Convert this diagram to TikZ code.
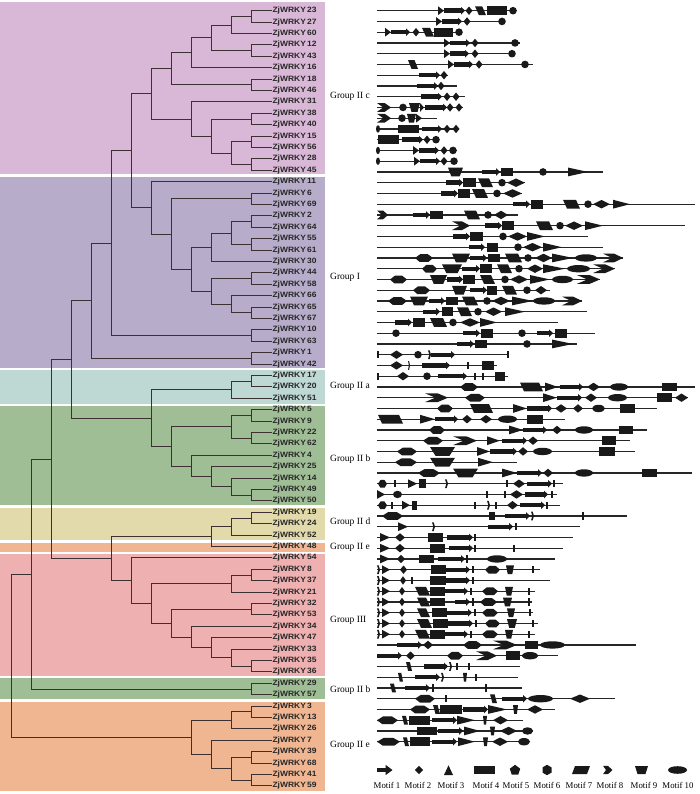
\documentclass[tikz,border=0pt]{standalone}
\usepackage{fontspec}
\setmainfont{Liberation Serif}
\newfontfamily\labfont[FakeStretch=1.1]{Liberation Sans}
\usetikzlibrary{calc}
\definecolor{cpink}{RGB}{217,183,214}
\definecolor{cpurp}{RGB}{183,172,202}
\definecolor{cteal}{RGB}{190,216,212}
\definecolor{cgreen}{RGB}{160,190,150}
\definecolor{cyell}{RGB}{226,218,170}
\definecolor{corange}{RGB}{240,182,146}
\definecolor{cred}{RGB}{238,176,176}
\definecolor{treec}{RGB}{60,48,50}
\tikzset{
 band/.style={fill=#1, draw=none},
 tree/.style={draw=treec, line width=0.85pt},
 lab/.style={anchor=west, inner sep=0.8pt, font=\labfont\bfseries\fontsize{7.7}{8}\selectfont, text=black!85},
 grp/.style={anchor=west, inner sep=0pt, font=\fontsize{9.5}{11}\selectfont},
 mline/.style={draw=black!85, line width=1.2pt},
 mf/.style={fill=black!90},
 mtxt/.style={font=\fontsize{8.8}{10}\selectfont, inner sep=0pt}
}
\newcommand\jn[4]{%
 \path let \p1=(#3), \p2=(#4) in coordinate (#1) at (#2pt,{(\y1+\y2)/2});
 \draw[tree] (#1) |- (#3);
 \draw[tree] (#1) |- (#4);}
\newcommand\mot[3]{%
 \pgfmathsetmacro\ma{#2}\pgfmathsetmacro\mb{#3}%
 \pgfmathsetmacro\mw{\mb-\ma}\pgfmathsetmacro\mc{(\ma+\mb)/2}%
 \pgfmathsetmacro\ms{min(0.35*\mw,4)}%
 \ifcase#1\relax
  \fill[mf] (\ma,\ry-3.6) rectangle (\mb,\ry+3.6);
 \or
  \fill[mf] (\ma,\ry-2.2) rectangle ({\mb-3},\ry+2.2);
  \fill[mf] ({\mb-4},\ry-3.9) -- (\mb,\ry) -- ({\mb-4},\ry+3.9) -- cycle;
 \or
  \fill[mf] (\ma,\ry) -- (\mc,\ry-4.2) -- (\mb,\ry) -- (\mc,\ry+4.2) -- cycle;
 \or
  \fill[mf] (\ma,\ry-4.4) -- (\mb,\ry) -- (\ma,\ry+4.4) -- cycle;
 \or
  \fill[mf] (\ma,\ry-4.4) rectangle (\mb,\ry+4.4);
 \or
  \fill[mf] (\ma,\ry) -- ({\ma+0.3*\mw},\ry-3.9) -- ({\mb-0.3*\mw},\ry-3.9) -- (\mb,\ry) -- ({\mb-0.25*\mw},\ry+3.9) -- ({\ma+0.25*\mw},\ry+3.9) -- cycle;
 \or
  \fill[mf] (\mc,\ry) circle[radius=3.8];
 \or
  \fill[mf] (\ma,\ry-4.4) -- ({\mb-\ms},\ry-4.4) -- (\mb,\ry+4.4) -- ({\ma+\ms},\ry+4.4) -- cycle;
 \or
  \fill[mf] (\ma,\ry-4.4) -- ({\ma+0.55*\mw},\ry-4.4) -- (\mb,\ry) -- ({\ma+0.55*\mw},\ry+4.4) -- (\ma,\ry+4.4) -- ({\ma+0.45*\mw},\ry) -- cycle;
 \or
  \fill[mf] (\ma,\ry-4.4) -- (\mb,\ry-4.4) -- ({\mb-0.22*\mw},\ry+4.4) -- ({\ma+0.22*\mw},\ry+4.4) -- cycle;
 \or
  \fill[mf] (\mc,\ry) ellipse[x radius={\mw/2}, y radius=3.7];
 \fi}
\newcommand\mrow[3]{%
 \pgfmathsetmacro\ry{10.7+10.75*#1}%
 \draw[mline] (377,\ry) -- (#2,\ry);
 \foreach \mty/\mxa/\mxb in {#3}{\mot{\mty}{\mxa}{\mxb}}}
\begin{document}
\begin{tikzpicture}[x=1pt,y=-1pt]
\useasboundingbox[fill=white] (0,0) rectangle (700,794);
% bands
\fill[band=cpink] (0,2) rectangle (325,174.5);
\fill[band=cpurp] (0,177) rectangle (325,367.5);
\fill[band=cteal] (0,370) rectangle (325,403.5);
\fill[band=cgreen] (0,405.5) rectangle (325,505);
\fill[band=cyell] (0,507.5) rectangle (325,540);
\fill[band=corange] (0,542.5) rectangle (325,551.5);
\fill[band=cred] (0,554) rectangle (325,675.5);
\fill[band=cgreen] (0,678) rectangle (325,699);
\fill[band=corange] (0,701.5) rectangle (325,790.5);
% leaves
\foreach \g/\i in {23/0,27/1,60/2,12/3,43/4,16/5,18/6,46/7,31/8,38/9,40/10,15/11,56/12,28/13,45/14,
 11/15,6/16,69/17,2/18,64/19,55/20,61/21,30/22,44/23,58/24,66/25,65/26,67/27,10/28,63/29,1/30,42/31,
 17/32,20/33,51/34,5/35,9/36,22/37,62/38,4/39,25/40,14/41,49/42,50/43,19/44,24/45,52/46,48/47,
 54/48,8/49,37/50,21/51,32/52,53/53,34/54,47/55,33/56,35/57,36/58,29/59,57/60,
 3/61,13/62,26/63,7/64,39/65,68/66,41/67,59/68}
 {\node[lab] (w\g) at (271.5,{10.7+11.4*\i}) {ZjWRKY\,\g};}
% tree: group IIc
\jn{a1}{251}{w23}{w27}
\jn{a2}{231}{a1}{w60}
\jn{a3}{251}{w12}{w43}
\jn{a4}{211}{a2}{a3}
\jn{a5}{191}{a4}{w16}
\jn{a6}{251}{w18}{w46}
\jn{a7}{171}{a5}{a6}
\jn{a8}{251}{w38}{w40}
\jn{a9}{251}{w15}{w56}
\jn{a10}{251}{w28}{w45}
\jn{a11}{231}{a9}{a10}
\jn{a12}{211}{a8}{a11}
\jn{a13}{191}{w31}{a12}
\jn{a14}{151}{a7}{a13}
% group I
\jn{b1}{251}{w6}{w69}
\jn{b2}{251}{w2}{w64}
\jn{b3}{251}{w55}{w61}
\jn{b4}{231}{b2}{b3}
\jn{b5}{211}{b4}{w30}
\jn{b6}{251}{w44}{w58}
\jn{b7}{251}{w65}{w67}
\jn{b8}{231}{w66}{b7}
\jn{b9}{211}{b6}{b8}
\jn{b10}{191}{b5}{b9}
\jn{b11}{171}{b1}{b10}
\jn{b12}{151}{w11}{b11}
\jn{c1}{131}{a14}{b12}
\jn{b13}{251}{w10}{w63}
\jn{c2}{111}{c1}{b13}
\jn{b14}{251}{w1}{w42}
\jn{c3}{91}{c2}{b14}
% IIa, IIb
\jn{d1}{251}{w17}{w20}
\jn{d2}{231}{d1}{w51}
\jn{e1}{251}{w5}{w9}
\jn{e2}{251}{w22}{w62}
\jn{e3}{231}{e1}{e2}
\jn{e4}{251}{w49}{w50}
\jn{e5}{231}{w14}{e4}
\jn{e6}{211}{w25}{e5}
\jn{e7}{191}{w4}{e6}
\jn{e8}{171}{e3}{e7}
\jn{e9}{151}{d2}{e8}
\jn{c4}{71}{c3}{e9}
% IId, IIe, III
\jn{f1}{251}{w19}{w24}
\jn{f2}{231}{f1}{w52}
\jn{f3}{211}{f2}{w48}
\jn{g1}{251}{w8}{w37}
\jn{g2}{231}{g1}{w21}
\jn{g3}{251}{w32}{w53}
\jn{g4}{251}{w35}{w36}
\jn{g5}{231}{w33}{g4}
\jn{g6}{211}{w47}{g5}
\jn{g7}{191}{w34}{g6}
\jn{g8}{171}{g3}{g7}
\jn{g9}{151}{g2}{g8}
\jn{g10}{131}{w54}{g9}
\jn{c5}{111}{f3}{g10}
\jn{c6}{51}{c4}{c5}
\jn{h1}{251}{w29}{w57}
\jn{c7}{31}{c6}{h1}
\jn{k1}{251}{w3}{w13}
\jn{k2}{231}{k1}{w26}
\jn{k3}{251}{w39}{w68}
\jn{k4}{251}{w41}{w59}
\jn{k5}{231}{k3}{k4}
\jn{k6}{211}{w7}{k5}
\jn{k7}{191}{k2}{k6}
\jn{c8}{11}{c7}{k7}
% group labels
\node[grp] (gl1) at (330,96) {Group II c};
\node[grp] (gl2) at (330,277.3) {Group I};
\node[grp] (gl3) at (330,386) {Group II a};
\node[grp] (gl4) at (330,459.3) {Group II b};
\node[grp] (gl5) at (330,522.3) {Group II d};
\node[grp] (gl6) at (330,547.3) {Group II e};
\node[grp] (gl7) at (330,620) {Group III};
\node[grp] (gl8) at (330,690) {Group II b};
\node[grp] (gl9) at (330,745) {Group II e};
% motif rows
\mrow{0}{517}{3/438/444,1/444/465,2/465.5/472.5,7/475/486,4/487/507,6/510/516}
\mrow{1}{503}{3/436/442,1/442/462,2/463.5/470.5,6/499/505}
\mrow{2}{462}{3/385/391,1/391/410,2/412.5/419.5,7/422/434,4/434/453,6/456/462}
\mrow{3}{520}{3/444/450,1/450/470,2/471.5/478.5,6/512/518}
\mrow{4}{512}{3/444/450,1/450/469,2/471.5/478.5,6/509/515}
\mrow{5}{533}{7/408/418,3/448/454,1/454/473,2/475.5/482.5,6/522/528}
\mrow{6}{448}{1/419/440,2/440.5/447.5}
\mrow{7}{457}{1/417/438,2/437.5/444.5}
\mrow{8}{465}{1/421/442,2/443.5/450.5,2/452.5/459.5}
\mrow{9}{463}{8/377/391,6/400/406,9/409/420,3/420/424,1/425/447,2/446.5/453.5,2/455.5/462.5}
\mrow{10}{437}{8/377/391,6/399/405,9/407/416,3/416/422}
\mrow{11}{458}{10/376/380,4/398/419,1/422/442,2/443.5/450.5,2/452.5/459.5}
\mrow{12}{438}{4/378/399,1/402/423,2/423.5/430.5,6/433/439}
\mrow{13}{457}{10/376/380,3/413/419,1/419/439,2/440.5/447.5,6/450/456}
\mrow{14}{457}{10/376/380,3/414/420,1/420/440,2/440.5/447.5,6/451/457}
\mrow{15}{603}{9/448/463,1/482/500,4/501/513,6/540/546,3/568/588}
\mrow{16}{525}{1/446/463,4/463/476,7/478/493,6/499/505,2/507/525}
\mrow{17}{522}{1/441/458,4/458/470,7/472/488,6/494/500,2/503/522}
\mrow{18}{695}{1/513/530,4/531/543,7/563/580,6/585/591,2/593/610,3/613/630}
\mrow{19}{518}{8/377/388,1/413/430,4/430/443,7/464/480,6/485/491,2/494/508}
\mrow{20}{685}{8/452/470,1/485/502,4/502/514,7/536/553,6/557/563,2/565/583,3/585/603}
\mrow{21}{588}{1/453/470,4/470/483,6/500/506,2/508/527,3/527/545}
\mrow{22}{603}{1/469/485,4/487/498,6/515/521,2/523/542,3/543/562}
\mrow{23}{623}{5/415/433,9/452/470,1/470/487,4/488/500,7/505/522,6/525/531,2/535/552,3/552/573,10/575/597,8/603/623}
\mrow{24}{615}{5/422/437,9/442/462,1/462/480,4/480/492,7/497/512,6/516/522,2/527/543,3/543/565,10/567/590,8/593/615}
\mrow{25}{600}{5/390/407,9/430/447,1/447/463,4/463/475,7/480/495,6/502/508,2/510/528,3/530/550,10/552/573,8/577/600}
\mrow{26}{550}{5/413/430,9/452/467,1/470/487,4/487/497,7/502/517,6/524/530,2/535/547}
\mrow{27}{582}{5/388/407,9/410/428,1/429/445,4/446/458,7/462/478,6/484/490,2/492/510,3/512/533,10/533/555,8/562/582}
\mrow{28}{587}{1/423/440,4/442/453,7/457/472,6/475/481,2/485/502,3/505/525}
\mrow{29}{558}{1/395/412,4/413/425,7/430/447,6/450/456,2/460/480,3/480/497}
\mrow{30}{595}{6/393/399,1/463/480,4/481/493,6/519/525,1/537/553,4/555/567}
\mrow{31}{577}{1/457/474,4/475/487,6/524/530,3/552/573}
\mrow{32}{508}{0/377/379,2/390/403,6/415/421,8/428/431,1/431/455,0/507/509}
\mrow{33}{497}{2/390/403,8/408/410,1/422/450,0/467/469,4/482/494}
\mrow{34}{508}{0/377/379,2/397/409,6/424/430,1/438/467,0/474/476,0/482/484,4/495/505}
\mrow{35}{695}{5/460/478,7/520/543,3/545/558,1/560/583,2/587/600,10/610/628,4/662/677}
\mrow{36}{688}{8/425/448,5/465/485,3/543/557,1/557/582,2/585/597,10/608/627,4/657/672,2/675/688}
\mrow{37}{657}{5/437/453,7/470/493,3/513/527,1/527/552,2/555/567,2/573/583,10/592/605,4/620/635}
\mrow{38}{565}{7/378/403,3/420/435,1/435/458,2/462/472,2/480/492,10/498/517,4/527/543}
\mrow{39}{647}{5/429/445,3/509/523,1/523/547,2/552/562,10/575/593,4/619/633}
\mrow{40}{630}{5/423/443,8/453/477,3/487/500,1/502/527,2/528/538,4/602/616}
\mrow{41}{635}{5/397/417,9/430/455,3/477/490,1/490/517,2/518/528,10/533/552,4/599/615}
\mrow{42}{517}{5/395/417,9/430/455,3/478/493}
\mrow{43}{692}{5/418/440,9/453/478,3/502/517,1/517/542,2/543/553,10/575/593,4/642/657}
\mrow{44}{563}{5/378/387,0/394/396,3/408/417,4/419/426,8/445/448,0/506/508,2/513/525,1/527/552,0/553/555}
\mrow{45}{557}{3/377/385,10/393/402,0/486/488,0/504/506,2/510/523,1/525/548,0/551/553}
\mrow{46}{560}{5/378/387,0/391/393,3/402/410,4/412/417,0/474/476,8/487/490,0/495/497,2/507/518,1/520/545,0/546/548}
\mrow{47}{627}{5/382/403,4/489/495,1/505/530,8/531/534,0/582/584}
\mrow{48}{580}{3/398/408,8/432/435,1/488/513,0/515/517}
\mrow{49}{573}{3/380/390,2/395/405,4/428/443,1/447/473,0/474/476}
\mrow{50}{563}{3/380/390,2/395/405,4/430/445,1/449/473,0/474/476,0/513/515}
\mrow{51}{555}{3/380/390,2/397/405,4/419/434,1/438/465,0/466/468,10/487/507}
\mrow{52}{540}{8/377/380,3/382/390,2/400/407,4/431/446,1/446/470,0/472/474,5/485/500,9/506/514,0/532/534}
\mrow{53}{550}{8/377/380,3/382/390,2/400/406,0/411/413,4/430/446,1/446/470,0/472/474}
\mrow{54}{535}{8/377/380,3/382/390,2/399/405,7/415/430,4/430/445,1/445/468,0/470/472,5/482/498,9/505/513,0/528/530}
\mrow{55}{532}{8/377/380,3/382/390,2/399/405,7/417/430,4/430/445,1/455/470,0/472/474,5/480/497,9/503/512,0/528/530}
\mrow{56}{533}{8/377/380,3/382/390,2/399/405,7/417/430,4/432/447,1/447/472,0/474/476,5/482/498,9/507/515,0/529/531}
\mrow{57}{538}{8/377/380,3/382/390,2/399/405,7/417/432,4/433/448,1/448/473,0/475/477,5/485/500,9/507/517,0/532/534}
\mrow{58}{535}{8/377/380,3/382/390,2/399/405,7/415/430,4/430/445,1/445/468,0/470/472,5/482/498,9/505/513,0/528/530}
\mrow{59}{636}{1/397/422,2/423/433,5/463/482,8/493/517,4/525/538,10/540/565}
\mrow{60}{558}{1/377/402,2/406/415,5/447/463,8/476/497,4/506/520,10/522/538}
\mrow{61}{520}{7/406/412,1/424/448,8/449/452,0/456/458,0/468/470}
\mrow{62}{518}{7/398/403,1/415/440,8/441/444,9/463/467,0/475/477}
\mrow{63}{522}{7/390/396,1/405/430,0/432/434,0/485/487}
\mrow{64}{615}{5/415/435,0/445/447,7/490/497,1/502/527,10/528/553,2/570/590}
\mrow{65}{555}{5/410/430,7/433/440,4/440/462,1/463/488,3/488/507,9/513/518,2/527/543}
\mrow{66}{523}{5/377/398,7/402/408,4/409/430,1/432/457,3/457/475,9/483/487,2/493/508}
\mrow{67}{533}{4/417/437,1/438/463,3/464/480,9/490/495,2/500/517,10/522/533}
\mrow{68}{530}{5/377/400,7/403/409,4/410/430,1/432/457,3/458/475,9/483/488,2/492/508,10/518/530}
% legend shapes
\fill[mf] (377,767.6) rectangle (386,772.4);
\fill[mf] (385.5,764.8) -- (392.5,770) -- (385.5,775.2) -- cycle;
\fill[mf] (414.8,770) -- (419,765.8) -- (423.2,770) -- (419,774.2) -- cycle;
\fill[mf] (444,775) -- (448.5,765.3) -- (453,775) -- cycle;
\fill[mf] (474,766) rectangle (495,774);
\fill[mf] (515,764.8) -- (520.2,768.7) -- (518.2,774.7) -- (511.8,774.7) -- (509.8,768.7) -- cycle;
\fill[mf] (547,764.8) -- (551.5,767.4) -- (551.5,772.6) -- (547,775.2) -- (542.5,772.6) -- (542.5,767.4) -- cycle;
\fill[mf] (575,766) -- (590,766) -- (587,774) -- (572,774) -- cycle;
\fill[mf] (603,765.8) -- (608,765.8) -- (612.3,770) -- (608,774.2) -- (603,774.2) -- (606,770) -- cycle;
\fill[mf] (635,766) -- (648,766) -- (645.5,774) -- (637.5,774) -- cycle;
\fill[mf] (677.5,770) ellipse[x radius=9.5, y radius=3.8];
% legend text
\node[mtxt] (m1) at (387,785) {Motif 1};
\node[mtxt] (m2) at (418,785) {Motif 2};
\node[mtxt] (m3) at (451,785) {Motif 3};
\node[mtxt] (m4) at (486,785) {Motif 4};
\node[mtxt] (m5) at (516,785) {Motif 5};
\node[mtxt] (m6) at (547,785) {Motif 6};
\node[mtxt] (m7) at (579,785) {Motif 7};
\node[mtxt] (m8) at (610,785) {Motif 8};
\node[mtxt] (m9) at (644,785) {Motif 9};
\node[mtxt] (m10) at (678,785) {Motif 10};
\end{tikzpicture}
\end{document}
